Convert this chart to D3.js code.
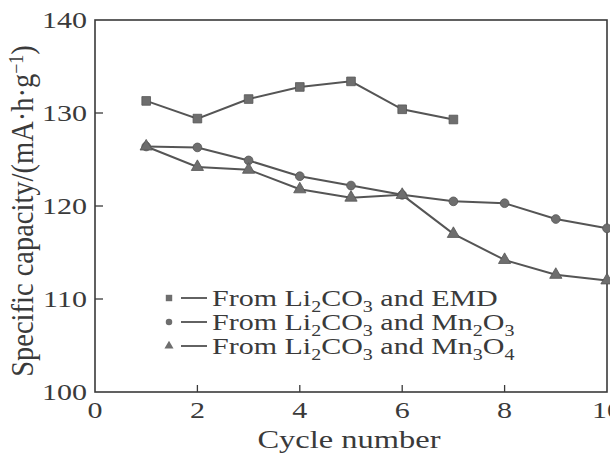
<!DOCTYPE html>
<html>
<head>
<meta charset="utf-8">
<script src="https://cdn.jsdelivr.net/npm/d3@7"></script>
<style>
  body { margin: 0; background: #fff; }
  svg { display: block; font-family: "Liberation Serif", "DejaVu Serif", serif; }
</style>
</head>
<body>
<svg width="610" height="457"></svg>
<script>
// data
var cycles = [1, 2, 3, 4, 5, 6, 7, 8, 9, 10];
var emd = [131.3, 129.4, 131.5, 132.8, 133.4, 130.4, 129.3];
var mn2o3 = [126.4, 126.3, 124.9, 123.2, 122.2, 121.2, 120.5, 120.3, 118.6, 117.6];
var mn3o4 = [126.4, 124.2, 123.9, 121.8, 120.9, 121.2, 117.0, 114.2, 112.6, 112.0];
var xTicks = [0, 2, 4, 6, 8, 10];
var yTicks = [100, 110, 120, 130, 140];
var legendNames = [
  ['From Li', '2', 'CO', '3', ' and EMD', ''],
  ['From Li', '2', 'CO', '3', ' and Mn', '2', 'O', '3'],
  ['From Li', '2', 'CO', '3', ' and Mn', '3', 'O', '4']
];

function main() {
  var svg = d3.select('svg');
  var left = 95, right = 607, top = 20, bottom = 392;
  var ink = '#3a3a3a', markFill = '#6e6e6e';
  var stretch = 1.25; // the printed figure is wider than plain Times

  // text widened horizontally, like the scanned figure
  function wideText(g, px, py, size, anchor) {
    return g.append('text')
      .attr('transform', 'translate(' + px + ',' + py + ') scale(' + stretch + ',1)')
      .attr('text-anchor', anchor || 'start')
      .attr('font-size', size).attr('fill', ink);
  }

  var x = d3.scaleLinear().domain([0, 10]).range([left, right]);
  var y = d3.scaleLinear().domain([100, 140]).range([bottom, top]);

  // frame
  svg.append('rect')
    .attr('x', left).attr('y', top)
    .attr('width', right - left).attr('height', bottom - top)
    .attr('fill', 'none').attr('stroke', ink).attr('stroke-width', 1.6);

  // inner ticks
  svg.append('g').selectAll('line')
    .data(xTicks.slice(1, -1)).enter().append('line')
    .attr('x1', d => x(d)).attr('x2', d => x(d))
    .attr('y1', bottom).attr('y2', bottom - 7)
    .attr('stroke', ink).attr('stroke-width', 1.3);
  svg.append('g').selectAll('line')
    .data(yTicks.slice(1, -1)).enter().append('line')
    .attr('y1', d => y(d)).attr('y2', d => y(d))
    .attr('x1', left).attr('x2', left + 8)
    .attr('stroke', ink).attr('stroke-width', 1.3);

  // tick labels
  var gx = svg.append('g');
  xTicks.forEach(function (d) {
    wideText(gx, x(d), 418, 24, 'middle').text(d);
  });
  var gy = svg.append('g');
  yTicks.forEach(function (d) {
    wideText(gy, 87, y(d) + 8, 24, 'end').text(d);
  });

  // axis titles
  wideText(svg, 349, 448, 26, 'middle').text('Cycle number');
  var yt = svg.append('text')
    .attr('transform', 'translate(33,211) scale(1.12,1) rotate(-90)')
    .attr('text-anchor', 'middle')
    .attr('font-size', 28.5).attr('fill', ink);
  yt.append('tspan').text('Specific capacity/(mA\u00b7h\u00b7g');
  yt.append('tspan').attr('dy', -9).attr('font-size', 18).text('\u22121');
  yt.append('tspan').attr('dy', 9).text(')');

  var line = d3.line().x(d => x(d[0])).y(d => y(d[1]));
  var series = [emd, mn2o3, mn3o4];
  var shapes = [d3.symbolSquare, d3.symbolCircle, d3.symbolTriangle];
  var sizes = [75, 60, 65];

  series.forEach(function (vals, i) {
    var pts = vals.map((v, k) => [cycles[k], v]);
    svg.append('path')
      .attr('d', line(pts))
      .attr('fill', 'none').attr('stroke', '#555').attr('stroke-width', 2);
    svg.append('g').selectAll('path')
      .data(pts).enter().append('path')
      .attr('transform', d => 'translate(' + x(d[0]) + ',' + y(d[1]) + ')')
      .attr('d', d3.symbol().type(shapes[i]).size(sizes[i]))
      .attr('fill', markFill).attr('stroke', '#555').attr('stroke-width', 0.8);
  });

  // legend
  var lg = svg.append('g');
  legendNames.forEach(function (parts, i) {
    var ly = 298 + i * 24;
    lg.append('path')
      .attr('transform', 'translate(169,' + ly + ')')
      .attr('d', d3.symbol().type(shapes[i]).size(sizes[i] * 0.55))
      .attr('fill', markFill);
    lg.append('line')
      .attr('x1', 181).attr('x2', 207).attr('y1', ly).attr('y2', ly)
      .attr('stroke', ink).attr('stroke-width', 1.6);
    var t = wideText(lg, 212, ly + 8, 24);
    parts.forEach(function (p, j) {
      if (p === '') return;
      var ts = t.append('tspan').text(p);
      if (j % 2 === 1) ts.attr('font-size', 16).attr('dy', 6);
      else if (j > 0) ts.attr('dy', -6);
    });
  });
}
main();
</script>
</body>
</html>
